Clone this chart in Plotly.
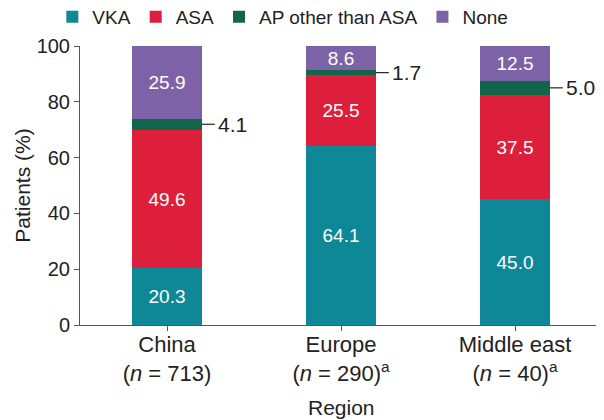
import plotly.graph_objects as go

categories = ["China<br>(<i>n</i> = 713)", "Europe<br>(<i>n</i> = 290)<sup>a</sup>", "Middle east<br>(<i>n</i> = 40)<sup>a</sup>"]
vka = [20.3, 64.1, 45.0]
asa = [49.6, 25.5, 37.5]
ap_other = [4.1, 1.7, 5.0]
none = [25.9, 8.6, 12.5]
series_names = ["VKA", "ASA", "AP other than ASA", "None"]
colors = ["#0E8796", "#DE1F3B", "#10654A", "#7E62A8"]
y_ticks = [0, 20, 40, 60, 80, 100]

FONT = "Liberation Sans, Arial, Helvetica, sans-serif"
BAR_W = 0.4
xs = list(range(len(categories)))

fig = go.Figure()
all_series = [vka, asa, ap_other, none]
for name, vals, col in zip(series_names, all_series, colors):
    show_text = name != "AP other than ASA"
    fig.add_trace(go.Bar(
        x=xs, y=vals, name=name, marker=dict(color=col, line=dict(width=0)),
        width=BAR_W,
        text=[f"{v:.1f}" for v in vals] if show_text else None,
        textposition="inside", insidetextanchor="middle",
        textfont=dict(color="white", size=19, family=FONT),
        hoverinfo="skip",
    ))

# outside labels for small AP segments
for i in xs:
    mid = vka[i] + asa[i] + ap_other[i] / 2
    x0 = i + BAR_W / 2
    fig.add_shape(type="line", x0=x0, x1=x0 + 0.075, y0=mid, y1=mid,
                  xref="x", yref="y", line=dict(color="#222", width=1.2))
    fig.add_annotation(x=x0 + 0.082, y=mid, text=f"{ap_other[i]:.1f}", showarrow=False,
                       xanchor="left", yanchor="middle", xref="x", yref="y",
                       font=dict(size=21, color="#222", family=FONT))

fig.add_annotation(x=0.5, y=-0.294, xref="paper", yref="paper", text="Region",
                   showarrow=False, xanchor="center", yanchor="middle",
                   font=dict(size=21, color="#222", family=FONT))

fig.update_layout(
    barmode="stack",
    width=604, height=420,
    margin=dict(l=72, r=10, t=38, b=103, autoexpand=False),
    paper_bgcolor="white", plot_bgcolor="white",
    font=dict(family=FONT, size=20, color="#222"),
    uniformtext=dict(minsize=19, mode="show"),
    legend=dict(orientation="h", x=-0.053, xanchor="left", y=1.104, yanchor="middle",
                font=dict(size=19, family=FONT, color="#222"),
                itemwidth=30, tracegroupgap=0, traceorder="normal"),
    xaxis=dict(
        tickmode="array", tickvals=xs, ticktext=categories, range=[-0.5, 2.5],
        showline=True, linecolor="#555", linewidth=1, ticks="outside", tickson="boundaries",
        ticklen=5, tickcolor="#555", showgrid=False, zeroline=False, automargin=False,
        tickfont=dict(size=22), ticklabelstandoff=-5,
    ),
    yaxis=dict(
        range=[0, 100], tickvals=y_ticks, showline=True, linecolor="#555", linewidth=1,
        ticks="outside", ticklen=5, tickcolor="#555", showgrid=False, zeroline=False,
        automargin=False,
        title=dict(text="Patients (%)", font=dict(size=21), standoff=0),
        tickfont=dict(size=20),
    ),
)

fig.write_html("out.html")
